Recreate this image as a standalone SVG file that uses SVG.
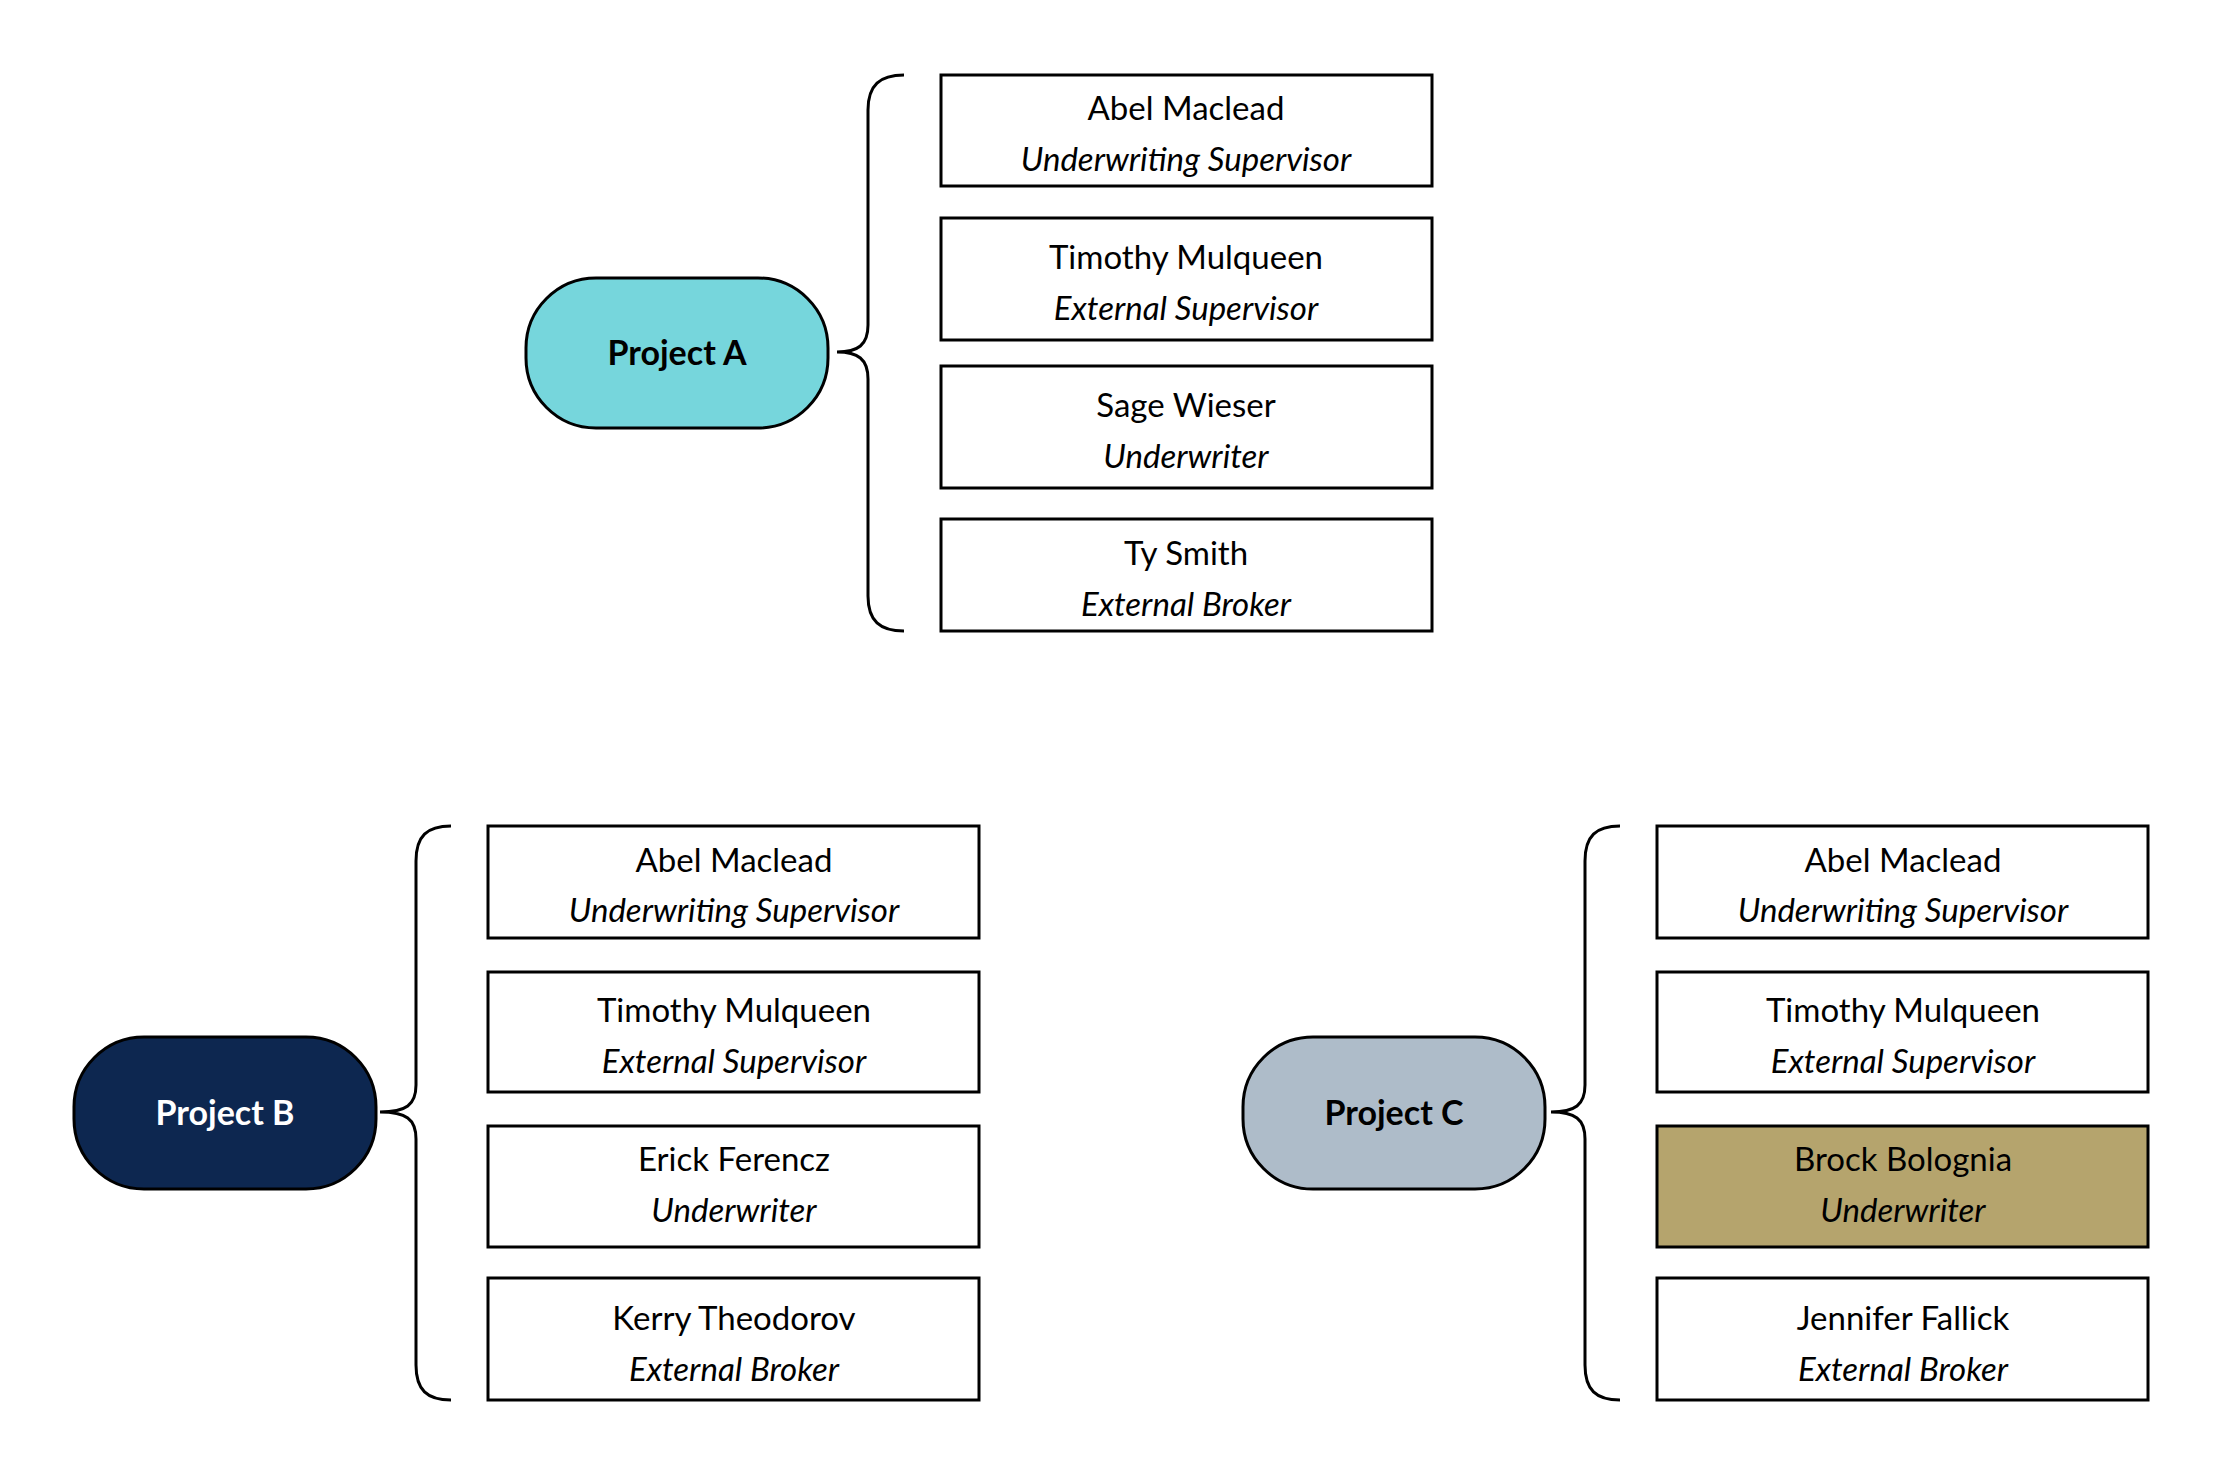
<svg xmlns="http://www.w3.org/2000/svg" width="2213" height="1468" viewBox="0 0 2213 1468">
<style>
.box{fill:#fff;stroke:#000;stroke-width:3}
.pill{stroke:#000;stroke-width:3}
.br{fill:none;stroke:#000;stroke-width:3}
text{font-family:Lato,"Open Sans","Liberation Sans",sans-serif;text-anchor:middle;fill:#000}
.n{font-size:33px}
.r{font-size:33px;font-style:italic}
.p{font-size:34px;font-weight:bold}
</style>
<rect width="2213" height="1468" fill="#fff"/>
<g id="connectors">
<path class="br" d="M904,75 C880,75 868,85 868,110 L868,325 C868,345 858,352 837,352 C858,352 868,359 868,379 L868,596 C868,621 880,631 904,631"/>
<path class="br" d="M451,826 C427,826 416,836 416,861 L416,1085 C416,1105 406,1112 380,1112 C406,1112 416,1119 416,1139 L416,1365 C416,1390 427,1400 451,1400"/>
<path class="br" d="M1620,826 C1596,826 1585,836 1585,861 L1585,1085 C1585,1105 1575,1112 1551,1112 C1575,1112 1585,1119 1585,1139 L1585,1365 C1585,1390 1596,1400 1620,1400"/>
</g>
<g id="projA"><rect class="pill" x="526" y="278" width="302" height="150" rx="70" fill="#76D6DC"/><text class="p" x="677" y="365">Project A</text></g>
<g id="projB"><rect class="pill" x="74" y="1037" width="302" height="152" rx="70" fill="#0D2750"/><text class="p" x="225" y="1125" style="fill:#fff">Project B</text></g>
<g id="projC"><rect class="pill" x="1243" y="1037" width="302" height="152" rx="70" fill="#AEBCC9"/><text class="p" x="1394" y="1125">Project C</text></g>
<g id="a1"><rect class="box" x="941" y="75" width="491" height="111"/><text class="n" x="1186" y="120">Abel Maclead</text><text class="r" x="1186" y="171">Underwriting Supervisor</text></g>
<g id="a2"><rect class="box" x="941" y="218" width="491" height="122"/><text class="n" x="1186" y="269">Timothy Mulqueen</text><text class="r" x="1186" y="320">External Supervisor</text></g>
<g id="a3"><rect class="box" x="941" y="366" width="491" height="122"/><text class="n" x="1186" y="417">Sage Wieser</text><text class="r" x="1186" y="468">Underwriter</text></g>
<g id="a4"><rect class="box" x="941" y="519" width="491" height="112"/><text class="n" x="1186" y="565">Ty Smith</text><text class="r" x="1186" y="616">External Broker</text></g>
<g id="b1"><rect class="box" x="488" y="826" width="491" height="112"/><text class="n" x="734" y="872">Abel Maclead</text><text class="r" x="734" y="922">Underwriting Supervisor</text></g>
<g id="b2"><rect class="box" x="488" y="972" width="491" height="120"/><text class="n" x="734" y="1022">Timothy Mulqueen</text><text class="r" x="734" y="1073">External Supervisor</text></g>
<g id="b3"><rect class="box" x="488" y="1126" width="491" height="121"/><text class="n" x="734" y="1171">Erick Ferencz</text><text class="r" x="734" y="1222">Underwriter</text></g>
<g id="b4"><rect class="box" x="488" y="1278" width="491" height="122"/><text class="n" x="734" y="1330">Kerry Theodorov</text><text class="r" x="734" y="1381">External Broker</text></g>
<g id="c1"><rect class="box" x="1657" y="826" width="491" height="112"/><text class="n" x="1903" y="872">Abel Maclead</text><text class="r" x="1903" y="922">Underwriting Supervisor</text></g>
<g id="c2"><rect class="box" x="1657" y="972" width="491" height="120"/><text class="n" x="1903" y="1022">Timothy Mulqueen</text><text class="r" x="1903" y="1073">External Supervisor</text></g>
<g id="c3"><rect class="box" x="1657" y="1126" width="491" height="121" style="fill:#B5A46D"/><text class="n" x="1903" y="1171">Brock Bolognia</text><text class="r" x="1903" y="1222">Underwriter</text></g>
<g id="c4"><rect class="box" x="1657" y="1278" width="491" height="122"/><text class="n" x="1903" y="1330">Jennifer Fallick</text><text class="r" x="1903" y="1381">External Broker</text></g>
</svg>
